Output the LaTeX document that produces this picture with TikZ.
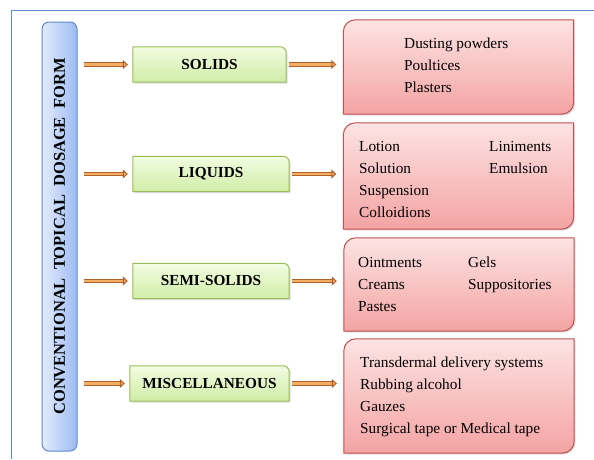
\documentclass[tikz,border=0pt]{standalone}
\usepackage{fontspec}
\setmainfont{Liberation Serif}
\usetikzlibrary{arrows.meta,backgrounds,shadows}

\definecolor{frameblue}{HTML}{5B8BD0}
\definecolor{barlight}{HTML}{E3ECFC}
\definecolor{bardark}{HTML}{9DBBF2}
\definecolor{catedge}{HTML}{9BBB59}
\definecolor{catlight}{HTML}{F2FCE2}
\definecolor{catdark}{HTML}{CFEDA6}
\definecolor{listedge}{HTML}{C0504D}
\definecolor{listlight}{HTML}{FDE3E3}
\definecolor{listdark}{HTML}{F4A3A3}
\definecolor{arrowedge}{HTML}{B0602A}
\definecolor{arroworange}{HTML}{F7AD62}

\begin{document}
\begin{tikzpicture}[x=1pt,y=-1pt,
  formbar/.style={draw=frameblue,line width=1pt,rounded corners=7pt,inner sep=0pt,
    minimum width=35pt,minimum height=429pt,left color=barlight,right color=bardark,
    font=\fontsize{16.5}{18}\selectfont\bfseries},
  catbox/.style={minimum height=35pt,inner sep=0pt,font=\fontsize{15.3}{18}\selectfont\bfseries},
  listbox/.style={minimum width=230pt,inner sep=0pt},
  item/.style={anchor=base west,inner sep=0pt,font=\fontsize{15.3}{18}\selectfont},
  flow/.style={draw=arrowedge,line width=1pt,double=arroworange,double distance=2.8pt,
    -{Triangle[length=5pt,width=9pt,fill=arroworange]}},
  catshape/.style={draw=catedge,line width=1pt,top color=catlight,bottom color=catdark,
    drop shadow={opacity=0.25,shadow xshift=1.5pt,shadow yshift=-1.5pt}},
  listshape/.style={draw=listedge,line width=1pt,top color=listlight,bottom color=listdark,
    drop shadow={opacity=0.25,shadow xshift=1.5pt,shadow yshift=-1.5pt}}]
\useasboundingbox (0,0) rectangle (594,459);

% outer frame
\draw[frameblue,line width=1pt] (11,459) -- (11,10) -- (594,10);

% left bar
\node[formbar] (form) at (59.5,236.5) {\rotatebox{90}{CONVENTIONAL\ \ TOPICAL\ \ DOSAGE\ \ FORM}};

% categories
\node[catbox,minimum width=153pt] (solids) at (209.5,64.5) {SOLIDS};
\node[catbox,minimum width=156pt] (liquids) at (211,174) {LIQUIDS};
\node[catbox,minimum width=156pt] (semisolids) at (211,281) {SEMI-SOLIDS};
\node[catbox,minimum width=159pt] (misc) at (209.5,383.5) {MISCELLANEOUS};

% lists
\node[listbox,minimum height=94pt] (solidlist) at (458.5,67) {};
\node[listbox,minimum height=106pt] (liquidlist) at (458.5,176) {};
\node[listbox,minimum height=93pt] (semilist) at (459,284.5) {};
\node[listbox,minimum height=114pt] (misclist) at (459,396) {};

\begin{scope}[on background layer]
\foreach \c in {solids,liquids,semisolids,misc}
  \path[catshape] (\c.south west) -- (\c.north west) -- ([xshift=-6pt]\c.north east)
    arc[start angle=-90,end angle=0,radius=6] -- (\c.south east) -- cycle;
\foreach \b in {solidlist,liquidlist,semilist,misclist}
  \path[listshape] ([yshift=-12pt]\b.north west) arc[start angle=180,end angle=270,radius=12]
    -- (\b.north east) -- ([yshift=12pt]\b.south east)
    arc[start angle=0,end angle=90,radius=12] -- (\b.south west) -- cycle;
\end{scope}

% items
\foreach \t [count=\i] in {Dusting powders,Poultices,Plasters}
  \node[item] (solid\i) at (404,26+22*\i) {\t};
\foreach \t [count=\i] in {Lotion,Solution,Suspension,Colloidions}
  \node[item] (liquid\i) at (359,129+22*\i) {\t};
\foreach \t [count=\i] in {Liniments,Emulsion}
  \node[item] (liquidb\i) at (489,129+22*\i) {\t};
\foreach \t [count=\i] in {Ointments,Creams,Pastes}
  \node[item] (semi\i) at (358,245+22*\i) {\t};
\foreach \t [count=\i] in {Gels,Suppositories}
  \node[item] (semib\i) at (468,245+22*\i) {\t};
\foreach \t [count=\i] in {Transdermal delivery systems,Rubbing alcohol,Gauzes,Surgical tape or Medical tape}
  \node[item] (misc\i) at (360,345+22*\i) {\t};

% arrows
\foreach \c/\b in {solids/solidlist,liquids/liquidlist,semisolids/semilist,misc/misclist}{
  \draw[flow,shorten <=6pt,shorten >=5pt] (form.east |- \c) -- (\c);
  \draw[flow,shorten <=3pt,shorten >=7pt] (\c) -- (\c -| \b.west);
}
\end{tikzpicture}
\end{document}
